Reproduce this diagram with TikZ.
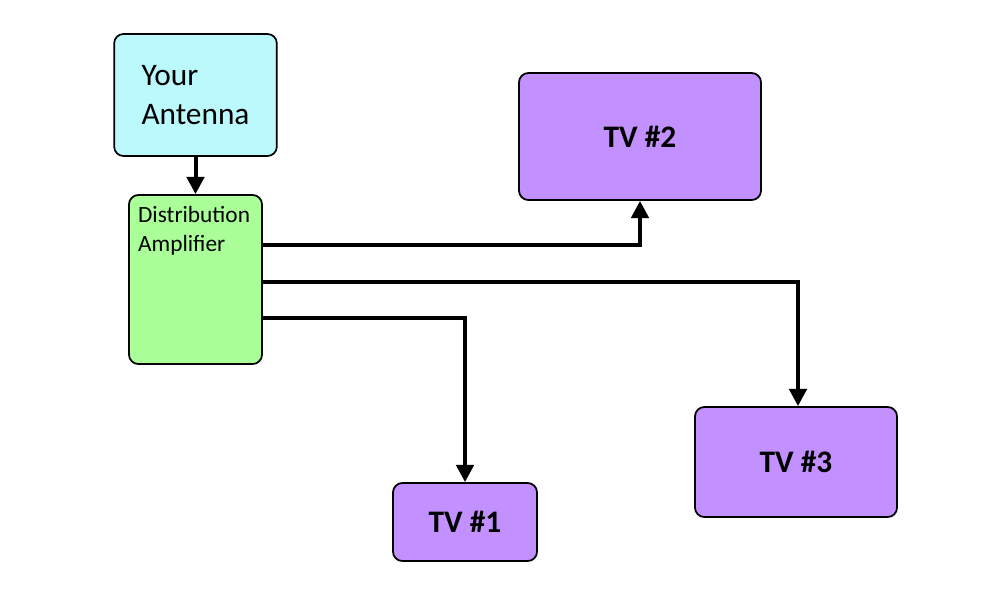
\documentclass[tikz,border=0pt]{standalone}
\usepackage{fontspec}
\setmainfont{Carlito}
\usetikzlibrary{arrows.meta}
\definecolor{antcyan}{HTML}{BBF9FD}
\definecolor{ampgreen}{HTML}{AAFF99}
\definecolor{tvpurple}{HTML}{C391FF}
\begin{document}
\begin{tikzpicture}[x=0.75pt, y=-0.75pt,
                    line width=1.5pt,
                    >={Triangle[length=13pt,width=13pt]}]
    \tikzstyle{block}=[draw=black,rounded corners=7pt,line width=1.3pt,inner sep=0pt]
    \tikzstyle{antenna}=[block,fill=antcyan,minimum width=122pt,minimum height=91.5pt,
                         align=left,font=\fontsize{23.5}{29}\selectfont]
    \tikzstyle{amplifier}=[block,fill=ampgreen,minimum width=99.75pt,minimum height=126.75pt]
    \tikzstyle{tv}=[block,fill=tvpurple,font=\fontsize{23.5}{28}\selectfont\bfseries]
    \tikzstyle{feed}=[line width=3pt,->]

    \useasboundingbox (0,0) rectangle (1000,600);

    \node[antenna] (ant) at (195.5,95) {Your\\Antenna};
    \node[amplifier,label={[anchor=north west,align=left,inner xsep=6.75pt,inner ysep=8pt,
          label distance=0pt,font=\fontsize{17.5}{22}\selectfont]north west:Distribution\\Amplifier}]
        (amp) at (195.5,279.5) {};
    \node[tv,minimum width=181.5pt,minimum height=95.25pt] (tv2) at (640,136.5) {TV \#2};
    \node[tv,minimum width=151.5pt,minimum height=82.5pt] (tv3) at (796,462) {TV \#3};
    \node[tv,minimum width=108pt,minimum height=58.5pt] (tv1) at (465,522) {TV \#1};

    \draw[feed] (ant) -- (amp);
    \draw[feed] ([yshift=25.9pt]amp.east) -| (tv2.south);
    \draw[feed] ([yshift=-1.9pt]amp.east) -| ([xshift=1.5pt]tv3.north);
    \draw[feed] ([yshift=-28.9pt]amp.east) -| (tv1.north);
\end{tikzpicture}
\end{document}
